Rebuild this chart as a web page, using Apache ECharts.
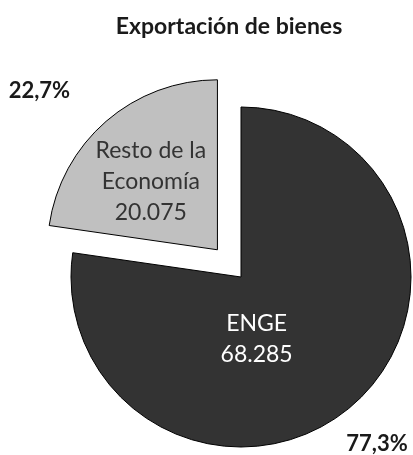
<!DOCTYPE html>
<html>
<head>
<meta charset="utf-8">
<script src="https://cdn.jsdelivr.net/npm/echarts@6/dist/echarts.min.js"></script>
<style>
  html, body { margin: 0; padding: 0; background: #fff; }
  #chart { width: 413px; height: 455px; }
</style>
</head>
<body>
<div id="chart"></div>
<script>
// datos del gráfico
var categorias = ['ENGE', 'Resto de la\nEconomía'];
var valores = [68285, 20075];
var colores = ['#333333', '#c0c0c0'];
var colorTexto = ['#ffffff', '#333333'];

function fmtMiles(v) {
  return String(v).replace(/\B(?=(\d{3})+(?!\d))/g, '.');
}

var datos = categorias.map(function (c, i) {
  return {
    name: c,
    value: valores[i],
    selected: i === 1,
    itemStyle: { color: colores[i] },
    label: { color: colorTexto[i] }
  };
});

var datosPct = categorias.map(function (c, i) {
  return { name: c, value: valores[i], selected: i === 1 };
});

// ajustes de la posición de las etiquetas
var ajusteInterior = [[-42, -4], [-9, -2]];
var ajusteExterior = [[-11, 38], [-31, -30]];

var chart = echarts.init(document.getElementById('chart'));
chart.setOption({
  animation: false,
  title: {
    text: 'Exportación de bienes',
    left: 229,
    textAlign: 'center',
    top: 15,
    padding: 0,
    textStyle: { fontFamily: 'Lato', fontWeight: 'bold', fontSize: 23, color: '#1a1a1a' }
  },
  series: [
    {
      type: 'pie',
      center: [241, 277],
      radius: [0, 170],
      startAngle: 90,
      selectedMode: 'single',
      selectedOffset: 36,
      silent: true,
      itemStyle: { borderColor: '#000', borderWidth: 1 },
      label: {
        position: 'inside',
        fontFamily: 'Lato',
        fontSize: 23,
        lineHeight: 31,
        formatter: function (p) { return p.name + '\n' + fmtMiles(p.value); }
      },
      labelLayout: function (p) {
        var a = ajusteInterior[p.dataIndex];
        return { dx: a[0], dy: a[1] };
      },
      data: datos
    },
    {
      type: 'pie',
      center: [241, 277],
      radius: [0, 170],
      startAngle: 90,
      selectedMode: 'single',
      selectedOffset: 36,
      silent: true,
      z: 3,
      itemStyle: { color: 'rgba(0,0,0,0)', borderWidth: 0 },
      label: {
        position: 'outside',
        alignTo: 'none',
        overflow: 'none',
        formatter: function (p) { return '{b|' + p.percent.toFixed(1).replace('.', ',') + '%}'; },
        rich: {
          b: { fontFamily: 'Lato', fontWeight: 'bold', fontSize: 22, color: '#1a1a1a' }
        }
      },
      labelLine: { show: false, length: 0, length2: 0 },
      labelLayout: function (p) {
        var a = ajusteExterior[p.dataIndex];
        return { dx: a[0], dy: a[1] };
      },
      data: datosPct
    }
  ]
});
</script>
</body>
</html>
